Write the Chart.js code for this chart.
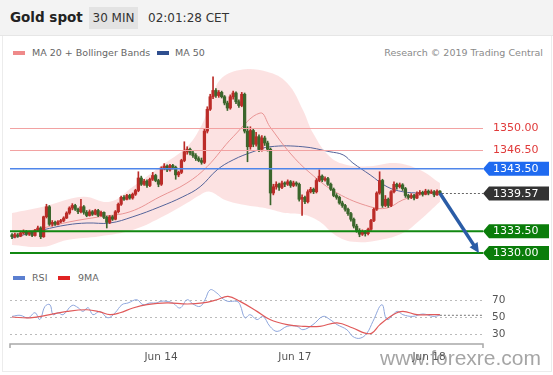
<!DOCTYPE html>
<html>
<head>
<meta charset="utf-8">
<script src="https://cdn.jsdelivr.net/npm/chart.js@4.4.1/dist/chart.umd.min.js"></script>
<style>
body{margin:0;width:553px;height:375px;overflow:hidden;background:#fff;font-family:"DejaVu Sans",sans-serif;position:relative}
#head{position:absolute;left:0;top:0;width:553px;height:35px;background:#f3f3f3;border-bottom:1px solid #e6e6e6}
#title{position:absolute;left:10px;top:9px;font-weight:bold;font-size:13.5px;color:#222}
#tf{position:absolute;left:89px;top:7px;width:49px;height:22px;line-height:22px;text-align:center;background:#e3e3e3;font-size:12px;color:#333}
#time{position:absolute;left:148px;top:11px;font-size:12px;color:#333}
#frame{position:absolute;left:2px;top:36px;width:548px;height:335px;border:1px solid #ececec;border-top:none}
.leg{position:absolute;font-size:9.5px;color:#666;white-space:nowrap}
.sw{position:absolute;width:12px;height:4px}
#credit{position:absolute;right:10px;top:47px;font-size:9.5px;color:#8a8a8a}
canvas{position:absolute;left:0}
#price{top:60px}
#osc{top:268px}
#wm{position:absolute;left:380px;top:346px;font-family:"Liberation Sans",sans-serif;font-size:21px;color:rgba(105,105,105,0.6);white-space:nowrap}
</style>
</head>
<body>
<div id="head"><div id="title">Gold spot</div><div id="tf">30 MIN</div><div id="time">02:01:28 CET</div></div>
<div id="frame"></div>
<div class="sw" style="left:13px;top:51px;background:#ef8a8a"></div><div class="leg" style="left:32px;top:47px">MA 20 + Bollinger Bands</div>
<div class="sw" style="left:157px;top:51px;background:#2f4f8f"></div><div class="leg" style="left:175px;top:47px">MA 50</div>
<div id="credit">Research © 2019 Trading Central</div>
<div class="sw" style="left:13px;top:276px;background:#5b7fd0"></div><div class="leg" style="left:32px;top:272px">RSI</div>
<div class="sw" style="left:58px;top:276px;background:#e02222"></div><div class="leg" style="left:78px;top:272px">9MA</div>
<canvas id="price" width="553" height="212"></canvas>
<canvas id="osc" width="553" height="107"></canvas>
<div id="wm">www.forexre.com</div>
<script>
// candles: [open, high, low, close], 30 min
var candles = [
[1332.9,1333.1,1332.3,1332.6],[1332.6,1333.2,1332.4,1332.9],[1332.9,1333.1,1332.5,1332.7],[1332.7,1333.5,1332.6,1333.2],
[1333.2,1333.7,1333.0,1333.4],[1333.4,1333.6,1332.8,1333.0],[1333.0,1333.5,1332.8,1333.3],[1333.3,1333.4,1332.6,1332.8],
[1332.8,1333.8,1332.7,1333.6],[1333.6,1334.3,1333.4,1334.0],[1334.0,1334.2,1332.3,1332.6],[1332.6,1335.9,1332.5,1335.8],
[1335.8,1337.8,1335.6,1337.4],[1337.4,1337.6,1334.4,1334.6],[1334.6,1335.2,1334.3,1334.9],[1334.9,1335.1,1334.4,1334.6],
[1334.6,1335.2,1334.5,1335.0],[1335.0,1335.4,1334.8,1335.2],[1335.2,1335.8,1335.0,1335.6],[1335.6,1336.6,1335.5,1336.4],
[1336.4,1337.4,1336.2,1337.2],[1337.2,1337.9,1336.9,1337.6],[1337.6,1337.8,1336.8,1337.0],[1337.0,1337.2,1336.3,1336.6],
[1336.6,1338.6,1336.4,1337.4],[1337.4,1337.6,1336.2,1336.5],[1336.5,1336.8,1335.8,1336.0],[1336.0,1336.9,1335.9,1336.6],
[1336.6,1336.8,1336.0,1336.2],[1336.2,1337.0,1336.1,1336.8],[1336.8,1337.0,1335.8,1336.0],[1336.0,1336.7,1335.9,1336.5],
[1336.5,1336.6,1335.5,1335.7],[1335.7,1335.9,1334.0,1334.9],[1334.9,1336.0,1334.7,1335.8],[1335.8,1336.0,1335.2,1335.4],
[1335.4,1336.8,1335.3,1336.6],[1336.6,1338.0,1336.4,1337.8],[1337.8,1339.1,1337.6,1338.9],[1338.9,1339.2,1338.4,1338.6],
[1338.6,1339.4,1338.5,1339.2],[1339.2,1339.4,1338.6,1338.8],[1338.8,1339.6,1338.6,1339.4],[1339.4,1340.2,1339.2,1340.0],
[1340.0,1343.0,1339.8,1342.0],[1342.0,1342.3,1340.8,1341.0],[1341.0,1341.8,1340.8,1341.5],[1341.5,1341.7,1340.5,1340.8],
[1340.8,1342.0,1340.6,1341.8],[1341.8,1342.9,1341.6,1342.4],[1342.4,1342.6,1341.4,1341.6],[1341.6,1341.8,1340.6,1341.0],
[1341.0,1343.8,1340.8,1343.6],[1343.6,1344.3,1343.3,1343.9],[1343.9,1344.1,1343.0,1343.3],[1343.3,1344.2,1343.1,1344.0],
[1344.0,1344.2,1343.4,1343.7],[1343.7,1343.9,1341.8,1342.5],[1342.5,1343.1,1342.2,1342.9],[1342.9,1345.0,1342.7,1344.8],
[1344.8,1347.8,1344.6,1346.2],[1346.2,1347.0,1345.8,1346.6],[1346.6,1346.8,1345.7,1346.0],[1346.0,1346.3,1345.3,1345.6],
[1345.6,1345.9,1344.8,1345.1],[1345.1,1345.4,1344.6,1344.8],[1344.8,1345.2,1344.2,1344.5],[1344.5,1349.8,1344.3,1349.5],
[1349.5,1353.4,1349.2,1353.0],[1353.0,1355.4,1352.8,1355.0],[1355.0,1358.2,1354.7,1356.0],[1356.0,1356.3,1354.9,1355.2],
[1355.2,1356.0,1354.9,1355.7],[1355.7,1355.9,1354.8,1355.0],[1355.0,1355.2,1353.7,1354.0],[1354.0,1354.3,1352.8,1353.2],
[1353.2,1355.3,1353.0,1355.0],[1355.0,1355.9,1354.6,1355.6],[1355.6,1355.8,1353.9,1354.2],[1354.2,1354.5,1353.3,1353.6],
[1353.6,1355.7,1353.4,1355.4],[1355.4,1355.6,1349.2,1349.5],[1349.5,1350.2,1344.6,1347.0],[1347.0,1350.2,1346.6,1349.6],
[1349.6,1349.9,1347.0,1347.4],[1347.4,1349.3,1347.1,1348.6],[1348.6,1348.9,1346.2,1346.6],[1346.6,1348.8,1346.3,1348.4],
[1348.4,1348.7,1347.2,1347.6],[1347.6,1347.9,1346.3,1346.6],[1346.6,1346.8,1337.7,1339.6],[1339.6,1341.0,1339.3,1340.6],
[1340.6,1341.4,1340.2,1341.0],[1341.0,1341.2,1340.0,1340.5],[1340.5,1341.5,1340.3,1341.2],[1341.2,1341.4,1340.6,1341.0],
[1341.0,1341.7,1340.8,1341.4],[1341.4,1341.6,1340.5,1340.8],[1340.8,1341.5,1340.6,1341.2],[1341.2,1341.4,1340.7,1341.0],
[1341.0,1341.2,1338.3,1338.6],[1338.6,1339.3,1336.0,1338.9],[1338.9,1339.1,1337.9,1338.2],[1338.2,1340.1,1338.0,1339.8],
[1339.8,1340.5,1339.6,1340.2],[1340.2,1340.4,1339.5,1339.8],[1339.8,1341.9,1339.6,1341.6],[1341.6,1343.3,1341.4,1342.3],
[1342.3,1342.5,1341.4,1341.7],[1341.7,1342.2,1341.5,1341.9],[1341.9,1342.1,1340.8,1341.0],[1341.0,1341.2,1340.0,1340.2],
[1340.2,1340.4,1339.0,1339.2],[1339.2,1339.5,1338.6,1338.9],[1338.9,1339.1,1337.8,1338.0],[1338.0,1338.3,1337.3,1337.6],
[1337.6,1337.8,1336.7,1337.0],[1337.0,1337.2,1336.0,1336.3],[1336.3,1336.5,1335.1,1335.4],[1335.4,1335.6,1334.0,1334.3],
[1334.3,1334.6,1333.3,1333.6],[1333.6,1333.9,1332.6,1333.0],[1333.0,1333.7,1332.8,1333.4],[1333.4,1333.6,1332.7,1333.1],
[1333.1,1334.0,1332.9,1333.8],[1333.8,1335.4,1333.6,1335.2],[1335.2,1337.2,1335.0,1337.0],[1337.0,1339.8,1336.8,1339.6],
[1339.6,1343.0,1339.4,1341.6],[1341.6,1341.8,1337.3,1337.6],[1337.6,1339.2,1337.4,1338.6],[1338.6,1338.8,1337.3,1337.6],
[1337.6,1340.0,1337.4,1339.8],[1339.8,1341.4,1339.6,1341.0],[1341.0,1341.2,1340.2,1340.6],[1340.6,1341.2,1340.4,1340.9],
[1340.9,1341.1,1340.0,1340.3],[1340.3,1340.5,1338.9,1339.2],[1339.2,1339.4,1338.6,1338.9],[1338.9,1339.5,1338.7,1339.2],
[1339.2,1339.4,1338.5,1338.8],[1338.8,1339.8,1338.7,1339.5],[1339.5,1340.0,1339.3,1339.7],[1339.7,1339.9,1339.1,1339.4],
[1339.4,1340.2,1339.3,1339.9],[1339.9,1340.1,1339.3,1339.6],[1339.6,1340.1,1339.5,1339.8],[1339.8,1340.0,1339.0,1339.3],
[1339.3,1340.1,1339.2,1339.9],[1339.9,1340.0,1339.4,1339.57]
];

// indicator readings: [candle index, value]
var ma20 = [[0,1332.9],[10.8,1334.0],[20.2,1335.0],[30.6,1335.8],[41.1,1336.6],[51.5,1339.0],[60.9,1341.2],[67.9,1343.8],
  [77,1348.6],[86.4,1352.4],[89.8,1350.2],[96.8,1346.0],[103.8,1342.8],[113.2,1339.6],[124.7,1337.4],[130.6,1337.2],
  [136.1,1338.5],[142.1,1339.3],[148,1339.6]];
var ma50 = [[0,1332.4],[10.8,1333.7],[19.2,1334.5],[26.1,1334.8],[34.1,1334.8],[42.1,1335.8],[51.5,1337.4],[59.5,1339.0],
  [65.5,1340.6],[71.4,1343.3],[77,1344.9],[83.9,1346.2],[89.8,1347.0],[101.3,1347.0],[110.7,1346.2],[115.3,1345.7],
  [118.7,1344.4],[124.7,1342.5],[130.6,1340.6],[136.1,1339.8],[142.1,1339.6],[148,1339.6]];
var bandUpper = [[0,1336.4],[10.8,1337.4],[24.7,1339.0],[34.1,1338.2],[42.1,1340.6],[51.5,1343.8],[60.9,1347.0],[65.5,1350.0],
  [68.9,1353.7],[72.4,1357.7],[79.4,1359.3],[88.8,1359.0],[95.8,1357.2],[101.3,1352.9],[104.8,1349.2],[110.7,1345.4],
  [116.6,1344.1],[124.7,1343.9],[133.4,1344.4],[142.1,1343.3],[149,1341.2]];
var bandLower = [[0,1331.3],[10.8,1331.0],[19.2,1332.1],[30.6,1332.7],[42.1,1333.7],[51.5,1335.6],[60.9,1338.0],[65.5,1339.3],
  [68.9,1339.8],[74.2,1338.5],[81.1,1337.7],[88.1,1337.2],[95.1,1336.4],[102,1336.1],[107.2,1335.0],[112.5,1332.9],
  [118.7,1331.8],[128.1,1332.1],[136.1,1333.2],[142.1,1335.3],[149,1338.2]];
var rsi = [[0,50.7],[2.8,52],[5.6,49],[8,55],[9.7,47],[11.5,62.5],[13.2,64.5],[14.3,52.7],[16,55],[17.8,52.7],[20.9,63.6],
  [23,61],[24.7,56.6],[26.5,61],[28.2,52.7],[30.6,56.6],[33.4,49],[35.9,55],[38.3,64.5],[40.4,66.5],[43.5,70.3],[45.6,64.5],
  [48,66.5],[50.5,66.5],[51.5,68.4],[54,68.4],[56,66.5],[58.5,60.6],[61,70.3],[63,65.3],[65.5,62.5],[67.2,70.3],[69,82],
  [71.4,78],[73.1,72.3],[75.2,68.4],[78.3,68.4],[79.4,64.5],[81.1,49],[82.9,52.7],[85.3,47],[87.4,50.7],[89.8,39],[92.3,33],
  [95.8,39],[99.2,39],[101.3,35],[104.8,41],[108.3,50.7],[110.7,47],[113.2,41],[116.6,35],[118.7,27],[121.2,25],[123.6,31],
  [125.7,45],[128.8,64.5],[130.6,47],[134.1,56.6],[136.1,52.7],[139.6,50.7],[143.1,53.5],[146.6,50.7],[149,52]];
var rsiMa = [[0,50],[6.3,49],[13.2,52.7],[19.2,56.6],[26.1,58.5],[30.6,56],[34.1,52.7],[37.6,55],[42.1,60.6],[47,64.5],
  [54,66.5],[61,65.3],[66.5,66.5],[71.4,70.3],[75.2,74.2],[79.4,68.4],[85.3,56.6],[89.8,47],[95.8,41],[101.3,39],[107.2,39],
  [113.2,43],[118.7,37],[122.9,31],[125.3,31],[128.1,41],[132.7,52.7],[136.1,56.6],[141,52.7],[145.5,52.7],[149,52.7]];

var resistances = [1350.00, 1346.50];
var pivot = 1343.50;
var supports = [1333.50, 1330.00];
var lastPrice = 1339.57;
var arrowTo = [162.6, 1330.0];
var rsiLevels = [70, 50, 30];
var dayLabels = ['Jun 14', 'Jun 17', 'Jun 18'];
var dayIdx = [51.9, 98.5, 145.2];

var upCol = '#bb2c28', downCol = '#3b662c';
var font = '"DejaVu Sans", sans-serif';

function xy(arr) {
    return arr.map(function (p) { return { x: p[0], y: p[1] }; });
}
var candleCols = candles.map(function (c) { return c[3] >= c[0] ? upCol : downCol; });

function tag(ctx, a, y, text, fill) {
    ctx.beginPath();
    ctx.moveTo(a.right, y);
    ctx.lineTo(a.right + 6, y - 7);
    ctx.lineTo(549, y - 7);
    ctx.lineTo(549, y + 7);
    ctx.lineTo(a.right + 6, y + 7);
    ctx.closePath();
    ctx.fillStyle = fill;
    ctx.fill();
    ctx.fillStyle = '#fff';
    ctx.fillText(text, a.right + 10, y + 0.5);
}

var levelsPlugin = {
    id: 'levels',
    afterDatasetsDraw: function (chart) {
        var ctx = chart.ctx, a = chart.chartArea, sy = chart.scales.y, sx = chart.scales.x;
        ctx.save();
        ctx.font = '11px ' + font;
        ctx.textBaseline = 'middle';
        resistances.forEach(function (v) {
            var y = Math.round(sy.getPixelForValue(v)) + 0.5;
            ctx.strokeStyle = '#f2a2a2'; ctx.lineWidth = 1;
            ctx.beginPath(); ctx.moveTo(a.left, y); ctx.lineTo(a.right, y); ctx.stroke();
            ctx.fillStyle = '#e03a3a';
            ctx.fillText(v.toFixed(2), a.right + 10, y);
        });
        var py = sy.getPixelForValue(pivot);
        ctx.strokeStyle = '#4f86ea'; ctx.lineWidth = 1.5;
        ctx.beginPath(); ctx.moveTo(a.left, py); ctx.lineTo(a.right, py); ctx.stroke();
        tag(ctx, a, py, pivot.toFixed(2), '#1f6af0');
        supports.forEach(function (v) {
            var y = sy.getPixelForValue(v);
            ctx.strokeStyle = '#118811'; ctx.lineWidth = 2;
            ctx.beginPath(); ctx.moveTo(a.left, y); ctx.lineTo(a.right, y); ctx.stroke();
            tag(ctx, a, y, v.toFixed(2), '#0a7d0a');
        });
        var ly = Math.round(sy.getPixelForValue(lastPrice)) + 0.5;
        var lx = sx.getPixelForValue(candles.length - 1) + 2;
        ctx.setLineDash([2, 2]); ctx.strokeStyle = '#666'; ctx.lineWidth = 1;
        ctx.beginPath(); ctx.moveTo(lx, ly); ctx.lineTo(a.right, ly); ctx.stroke();
        ctx.setLineDash([]);
        tag(ctx, a, ly, lastPrice.toFixed(2), '#333');
        // projected move
        var x0 = sx.getPixelForValue(candles.length - 1), y0 = sy.getPixelForValue(lastPrice);
        var x1 = sx.getPixelForValue(arrowTo[0]), y1 = sy.getPixelForValue(arrowTo[1]);
        var ang = Math.atan2(y1 - y0, x1 - x0), hl = 11;
        ctx.strokeStyle = '#2a5ca6'; ctx.fillStyle = '#2a5ca6'; ctx.lineWidth = 3.5;
        ctx.beginPath(); ctx.moveTo(x0, y0);
        ctx.lineTo(x1 - Math.cos(ang) * hl * 0.8, y1 - Math.sin(ang) * hl * 0.8); ctx.stroke();
        ctx.beginPath(); ctx.moveTo(x1, y1);
        ctx.lineTo(x1 - hl * Math.cos(ang - 0.45), y1 - hl * Math.sin(ang - 0.45));
        ctx.lineTo(x1 - hl * Math.cos(ang + 0.45), y1 - hl * Math.sin(ang + 0.45));
        ctx.closePath(); ctx.fill();
        ctx.restore();
    }
};

var ctx = document.getElementById('price').getContext('2d');
new Chart(ctx, {
    type: 'bar',
    data: {
        datasets: [
            { type: 'line', data: xy(bandUpper), fill: '+1', backgroundColor: 'rgba(248,186,186,0.42)',
              borderColor: 'transparent', borderWidth: 0, pointRadius: 0, tension: 0.4, order: 10 },
            { type: 'line', data: xy(bandLower), fill: false, borderColor: 'transparent', borderWidth: 0,
              pointRadius: 0, tension: 0.4, order: 10 },
            { type: 'line', data: xy(ma20), borderColor: '#e89494', borderWidth: 1, pointRadius: 0,
              tension: 0.4, fill: false, order: 5 },
            { type: 'line', data: xy(ma50), borderColor: '#55649a', borderWidth: 1, pointRadius: 0,
              tension: 0.4, fill: false, order: 5 },
            { data: candles.map(function (c, i) { return { x: i, y: [c[2], c[1]] }; }),
              backgroundColor: candleCols, barThickness: 1, grouped: false, order: 2 },
            { data: candles.map(function (c, i) { return { x: i, y: [Math.min(c[0], c[3]), Math.max(c[0], c[3])] }; }),
              backgroundColor: candleCols, barThickness: 2.6, minBarLength: 1, grouped: false, order: 1 }
        ]
    },
    options: {
        responsive: false,
        animation: false,
        events: [],
        layout: { padding: { left: 10, right: 70, top: 5, bottom: 7 } },
        scales: {
            x: { type: 'linear', display: false, offset: false, min: -0.7, max: 164 },
            y: { display: false, min: 1328.08, max: 1360.08 }
        },
        plugins: { legend: { display: false }, tooltip: { enabled: false } }
    },
    plugins: [levelsPlugin]
});

var oscPlugin = {
    id: 'osc',
    beforeDatasetsDraw: function (chart) {
        var c = chart.ctx, a = chart.chartArea, sy = chart.scales.y;
        c.save();
        c.font = '10.5px ' + font;
        c.textBaseline = 'middle';
        c.fillStyle = '#555';
        rsiLevels.forEach(function (v) {
            var y = Math.round(sy.getPixelForValue(v)) + 0.5;
            c.setLineDash([2, 3]); c.strokeStyle = '#bbb'; c.lineWidth = 1;
            c.beginPath(); c.moveTo(a.left, y); c.lineTo(a.right, y); c.stroke();
            c.fillText(String(v), a.right + 9, y);
        });
        c.restore();
    },
    afterDatasetsDraw: function (chart) {
        var c = chart.ctx, a = chart.chartArea, sx = chart.scales.x, sy = chart.scales.y;
        c.save();
        var last = rsi[rsi.length - 1];
        var ly = sy.getPixelForValue(last[1]);
        c.setLineDash([2, 2]); c.strokeStyle = '#777'; c.lineWidth = 1;
        c.beginPath(); c.moveTo(sx.getPixelForValue(last[0]), ly); c.lineTo(a.right, ly); c.stroke();
        c.setLineDash([]);
        c.strokeStyle = '#a8a8a8'; c.lineWidth = 1.5;
        c.beginPath();
        c.moveTo(a.left, a.bottom + 4); c.lineTo(a.left, a.bottom);
        c.lineTo(a.right, a.bottom); c.lineTo(a.right, a.bottom + 4);
        c.stroke();
        c.font = '10.5px ' + font;
        c.fillStyle = '#555';
        c.textAlign = 'center';
        c.textBaseline = 'middle';
        dayLabels.forEach(function (t, i) {
            c.fillText(t, sx.getPixelForValue(dayIdx[i]), a.bottom + 13);
        });
        c.restore();
    }
};

var ctx2 = document.getElementById('osc').getContext('2d');
new Chart(ctx2, {
    type: 'line',
    data: {
        datasets: [
            { data: xy(rsiMa), borderColor: '#e05a5a', borderWidth: 1.2, pointRadius: 0, tension: 0.4, fill: false },
            { data: xy(rsi), borderColor: '#8ea6dc', borderWidth: 1, pointRadius: 0, tension: 0.4, fill: false }
        ]
    },
    options: {
        responsive: false,
        animation: false,
        events: [],
        layout: { padding: { left: 10, right: 70, top: 15, bottom: 31 } },
        scales: {
            x: { type: 'linear', display: false, min: -0.7, max: 164 },
            y: { display: false, min: 18.2, max: 90 }
        },
        plugins: { legend: { display: false }, tooltip: { enabled: false } }
    },
    plugins: [oscPlugin]
});
</script>
</body>
</html>
